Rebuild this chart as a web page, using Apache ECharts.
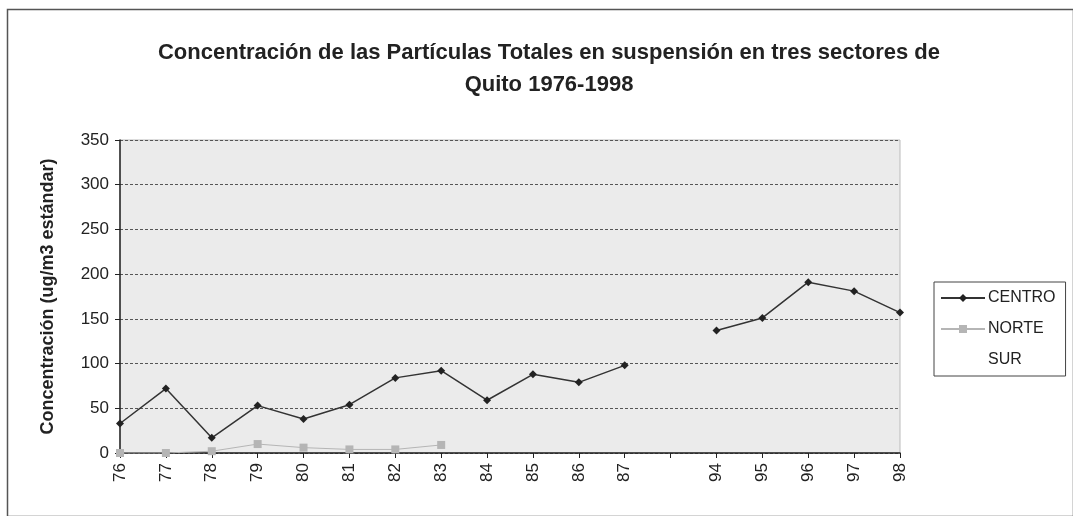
<!DOCTYPE html>
<html>
<head>
<meta charset="utf-8">
<script src="https://cdn.jsdelivr.net/npm/echarts@6/dist/echarts.min.js"></script>
<style>
  html, body { margin: 0; padding: 0; background: #fff; }
  #chart { width: 1073px; height: 516px; }
</style>
</head>
<body>
<div id="chart"></div>
<script>
// años (la categoría vacía deja el hueco entre 87 y 94)
const years = ['76', '77', '78', '79', '80', '81', '82', '83', '84', '85', '86', '87', '', '94', '95', '96', '97', '98'];
const centro = [33, 72, 17, 53, 38, 54, 84, 92, 59, 88, 79, 98, null, 137, 151, 191, 181, 157];
const norte = [0, 0, 2, 10, 6, 4, 4, 9, null, null, null, null, null, null, null, null, null, null];
const sur = [];
const yTicks = [0, 50, 100, 150, 200, 250, 300, 350];

const font = '"Liberation Sans", Arial, sans-serif';
const myChart = echarts.init(document.getElementById('chart'));

const option = {
  backgroundColor: '#fff',
  animation: false,
  title: {
    text: 'Concentración de las Partículas Totales en suspensión en tres sectores de\nQuito 1976-1998',
    left: 544,
    top: 32,
    textAlign: 'center',
    textStyle: {
      fontFamily: font,
      fontSize: 22,
      fontWeight: 'bold',
      color: '#222',
      lineHeight: 32
    }
  },
  legend: {
    orient: 'vertical',
    left: 934,
    top: 282,
    padding: [8, 10, 8, 6],
    itemGap: 15,
    itemWidth: 44,
    itemHeight: 10,
    borderColor: '#444',
    borderWidth: 1,
    textStyle: { fontFamily: font, fontSize: 16, color: '#222', padding: [0, 0, 0, -2] },
    data: ['CENTRO', 'NORTE', 'SUR']
  },
  grid: {
    left: 120,
    right: 173,
    top: 140,
    bottom: 63,
    show: true,
    backgroundColor: '#ebebeb',
    borderColor: '#bbb',
    borderWidth: 1
  },
  xAxis: {
    type: 'category',
    boundaryGap: false,
    data: years,
    axisLine: { lineStyle: { color: '#222', width: 1.5 } },
    axisTick: { show: true, length: 5, interval: 0, lineStyle: { color: '#222' } },
    axisLabel: {
      interval: 0,
      rotate: 90,
      margin: 10,
      fontFamily: font,
      fontSize: 17,
      color: '#222'
    },
    splitLine: { show: false }
  },
  yAxis: {
    type: 'value',
    min: yTicks[0],
    max: yTicks[yTicks.length - 1],
    interval: 50,
    name: 'Concentración (ug/m3 estándar)',
    nameLocation: 'middle',
    nameGap: 63,
    nameTextStyle: { fontFamily: font, fontSize: 18, fontWeight: 'bold', color: '#222' },
    axisLine: { show: true, lineStyle: { color: '#222', width: 1.5 } },
    axisTick: { show: true, length: 5, lineStyle: { color: '#222' } },
    axisLabel: { fontFamily: font, fontSize: 17, color: '#222', margin: 11 },
    splitLine: { show: true, lineStyle: { color: '#555', type: [3, 2], width: 1 } }
  },
  series: [
    {
      name: 'CENTRO',
      type: 'line',
      data: centro,
      connectNulls: false,
      symbol: 'diamond',
      symbolSize: 8,
      itemStyle: { color: '#222' },
      lineStyle: { color: '#333', width: 1.5 }
    },
    {
      name: 'NORTE',
      type: 'line',
      data: norte,
      symbol: 'rect',
      symbolSize: 8,
      itemStyle: { color: '#b5b5b5' },
      lineStyle: { color: '#b5b5b5', width: 1 }
    },
    {
      name: 'SUR',
      type: 'line',
      data: sur,
      symbol: 'none',
      itemStyle: { color: 'rgba(0,0,0,0)' },
      lineStyle: { color: 'rgba(0,0,0,0)', width: 0 }
    }
  ],
  graphic: [{
    type: 'rect',
    left: 5,
    top: 7,
    shape: { width: 1066, height: 507 },
    style: { fill: 'none', stroke: '#555', lineWidth: 1.5 },
    silent: true
  }]
};

myChart.setOption(option);
</script>
</body>
</html>
